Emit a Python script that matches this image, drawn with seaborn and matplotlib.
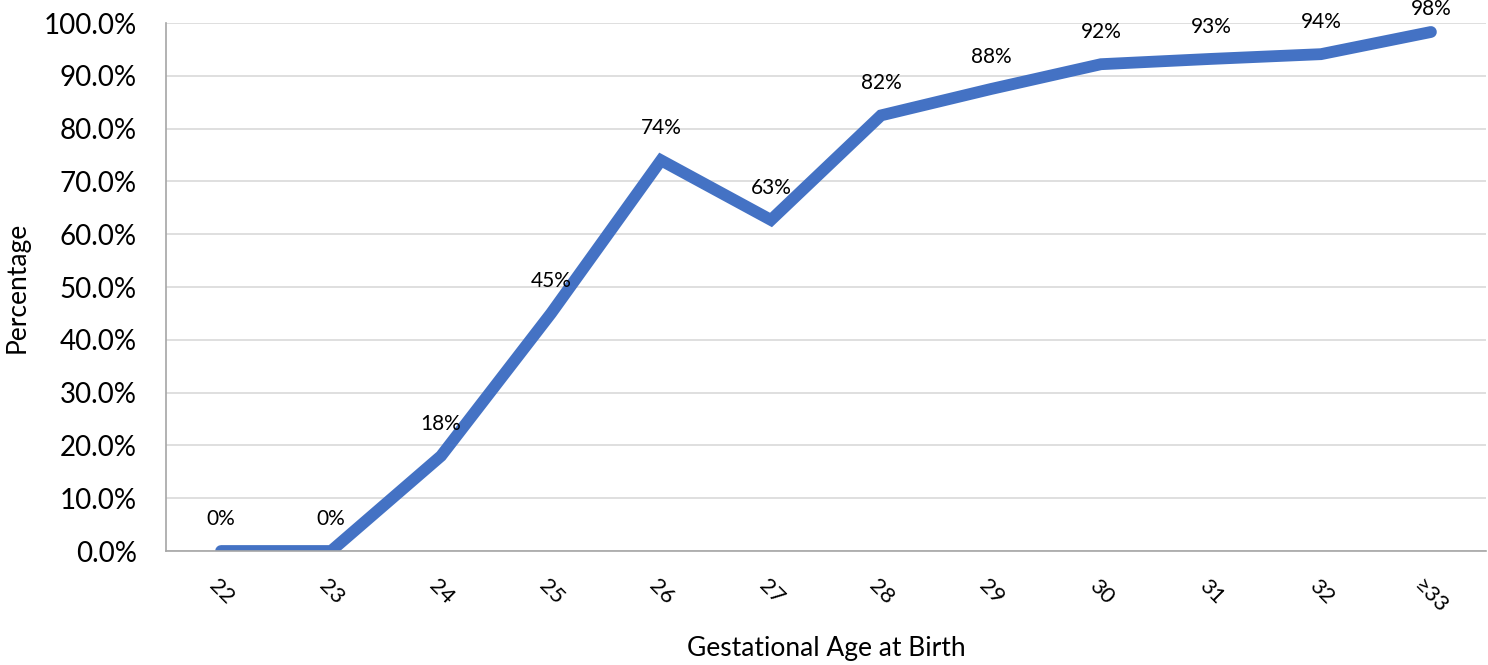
import pandas as pd
import matplotlib.pyplot as plt
import seaborn as sns
from matplotlib.ticker import PercentFormatter

# Values
ages = ['22', '23', '24', '25', '26', '27', '28', '29', '30', '31', '32', '\u226533']
survival = [0.0, 0.0, 0.18, 0.45, 0.74, 0.627, 0.825, 0.875, 0.922, 0.932, 0.941, 0.983]
labels = ['0%', '0%', '18%', '45%', '74%', '63%', '82%', '88%', '92%', '93%', '94%', '98%']

df = pd.DataFrame({'age': ages, 'pct': survival})

sns.set_style('white')
plt.rcParams['font.family'] = ['Lato', 'DejaVu Sans']
plt.rcParams['text.color'] = 'black'
plt.rcParams['axes.labelcolor'] = 'black'
plt.rcParams['xtick.color'] = 'black'
plt.rcParams['ytick.color'] = 'black'

fig = plt.figure(figsize=(14.88, 6.65), dpi=100)
ax = fig.add_axes([0.1116, 0.1714, 0.887, 0.794])

sns.lineplot(data=df, x='age', y='pct', sort=False, color='#4472C4',
             linewidth=8.5, ax=ax, solid_capstyle='round', solid_joinstyle='miter')

for i, (v, lab) in enumerate(zip(survival, labels)):
    # last label is squeezed against the top edge, like in the original
    off = 9 if i == len(labels) - 1 else 16
    ax.annotate(lab, (i, v), xytext=(0, off), textcoords='offset points',
                ha='center', va='bottom', fontsize=15, annotation_clip=False)

ax.set_xlim(-0.5, len(ages) - 0.5)
ax.set_ylim(0, 1)
ax.set_yticks([i / 10 for i in range(11)])
ax.yaxis.set_major_formatter(PercentFormatter(1, decimals=1))
ax.grid(axis='y', color='#D9D9D9', linewidth=1.2)
ax.set_axisbelow(True)

for s in ['top', 'right']:
    ax.spines[s].set_visible(False)
for s in ['left', 'bottom']:
    ax.spines[s].set_color('#A6A6A6')
    ax.spines[s].set_linewidth(1.2)

ax.tick_params(axis='y', length=0, labelsize=20, pad=21)
ax.tick_params(axis='x', length=0, labelsize=16, pad=18)
for t in ax.get_xticklabels():
    t.set_rotation(-45)
    t.set_ha('center')

ax.set_xlabel('Gestational Age at Birth', fontsize=19, labelpad=13)
ax.set_ylabel('Percentage', fontsize=19, labelpad=10)

fig.savefig('out.png', dpi=100)
